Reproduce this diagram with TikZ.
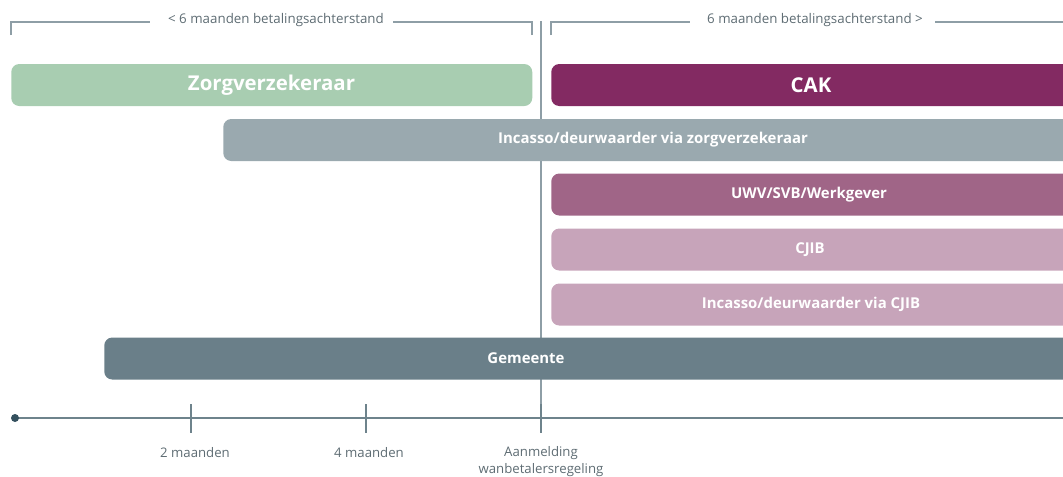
\documentclass[tikz,border=0pt]{standalone}
\usepackage{fontspec}
\setmainfont{Open Sans}
\definecolor{czorg}{HTML}{A8CDB1}
\definecolor{ccak}{HTML}{832A62}
\definecolor{cinczorg}{HTML}{9AA9AF}
\definecolor{cuwv}{HTML}{A06587}
\definecolor{ccjib}{HTML}{C7A4BA}
\definecolor{cgem}{HTML}{6A7F89}
\definecolor{cline}{HTML}{8E9EA6}
\definecolor{caxis}{HTML}{6E838C}
\definecolor{cdot}{HTML}{34505E}
\definecolor{ctext}{HTML}{5E6C73}
\begin{document}
\begin{tikzpicture}[x=0.75pt,y=-0.75pt,
  bar/.style={draw=none, rounded corners=6pt, minimum height=31.5pt, inner sep=0pt, anchor=west},
  bartext/.style={text=white, inner sep=0pt, font=\bfseries\fontsize{11.2}{13}\selectfont},
  bigtext/.style={text=white, inner sep=0pt, font=\bfseries\fontsize{15.3}{17}\selectfont},
  toplabel/.style={text=ctext, inner sep=0pt, font=\fontsize{10}{12}\selectfont},
  axislabel/.style={text=ctext, inner sep=0pt, align=center, font=\fontsize{9.9}{12.3}\selectfont},
  thinline/.style={draw=cline, line width=1.1pt},
  axisline/.style={draw=caxis, line width=1.4pt}]
\useasboundingbox (0,0) rectangle (1063,476);
\clip (0,0) rectangle (1063,476);

% divider (behind bars)
\coordinate (dtop) at (541,21);
\coordinate (t6b) at (541,433);
\draw[thinline] (dtop) -- (t6b);

% bars
\node[bar, fill=czorg, minimum width=390.75pt] (zorg) at (11,85) {};
\node[bar, fill=ccak, minimum width=396.75pt] (cak) at (551,85) {};
\node[bar, fill=cinczorg, minimum width=642.75pt] (inczorg) at (223,140) {};
\node[bar, fill=cuwv, minimum width=396.75pt] (uwv) at (551,194.5) {};
\node[bar, fill=ccjib, minimum width=396.75pt] (cjib) at (551,249.5) {};
\node[bar, fill=ccjib, minimum width=396.75pt] (inccjib) at (551,304.5) {};
\node[bar, fill=cgem, minimum width=732pt] (gem) at (104,358.5) {};

% bar texts
\node[bigtext] (tzorg) at (271.5,85) {Zorgverzekeraar};
\node[bigtext] (tcak) at (811,85) {CAK};
\node[bartext] (tinczorg) at (653,140) {Incasso/deurwaarder via zorgverzekeraar};
\node[bartext] (tuwv) at (809,194.5) {UWV/SVB/Werkgever};
\node[bartext] (tcjib) at (810,249.5) {CJIB};
\node[bartext] (tinccjib) at (811,304.5) {Incasso/deurwaarder via CJIB};
\node[bartext] (tgem) at (526,358.5) {Gemeente};

% top brackets
\node[toplabel] (lleft) at (276,20) {< 6 maanden betalingsachterstand};
\node[toplabel] (lright) at (815,20) {6 maanden betalingsachterstand >};
\coordinate (bl1) at (11,35);
\coordinate (bl1e) at (150,22);
\coordinate (bl2) at (532,35);
\coordinate (bl2e) at (393,22);
\coordinate (br1) at (551,35);
\coordinate (br1e) at (690,22);
\coordinate (br2s) at (935,22);
\coordinate (br2) at (1063,22);
\draw[thinline] (bl1) |- (bl1e);
\draw[thinline] (bl2) |- (bl2e);
\draw[thinline] (br1) |- (br1e);
\draw[thinline] (br2s) -- (br2);

% axis
\coordinate (t0) at (15,418);
\coordinate (tend) at (1063,418);
\coordinate (t2a) at (191,404);
\coordinate (t2b) at (191,433);
\coordinate (t4a) at (366,404);
\coordinate (t4b) at (366,433);
\coordinate (t6a) at (541,404);
\draw[axisline] (t0) -- (tend);
\draw[axisline] (t2a) -- (t2b);
\draw[axisline] (t4a) -- (t4b);
\draw[axisline] (t6a) -- (t6b);
\fill[cdot] (t0) circle (3pt);

\node[axislabel] (l2) at (195,453) {2 maanden};
\node[axislabel] (l4) at (369,453) {4 maanden};
\node[axislabel] (l6) at (541,461.5) {Aanmelding\\wanbetalersregeling};
\end{tikzpicture}
\end{document}
